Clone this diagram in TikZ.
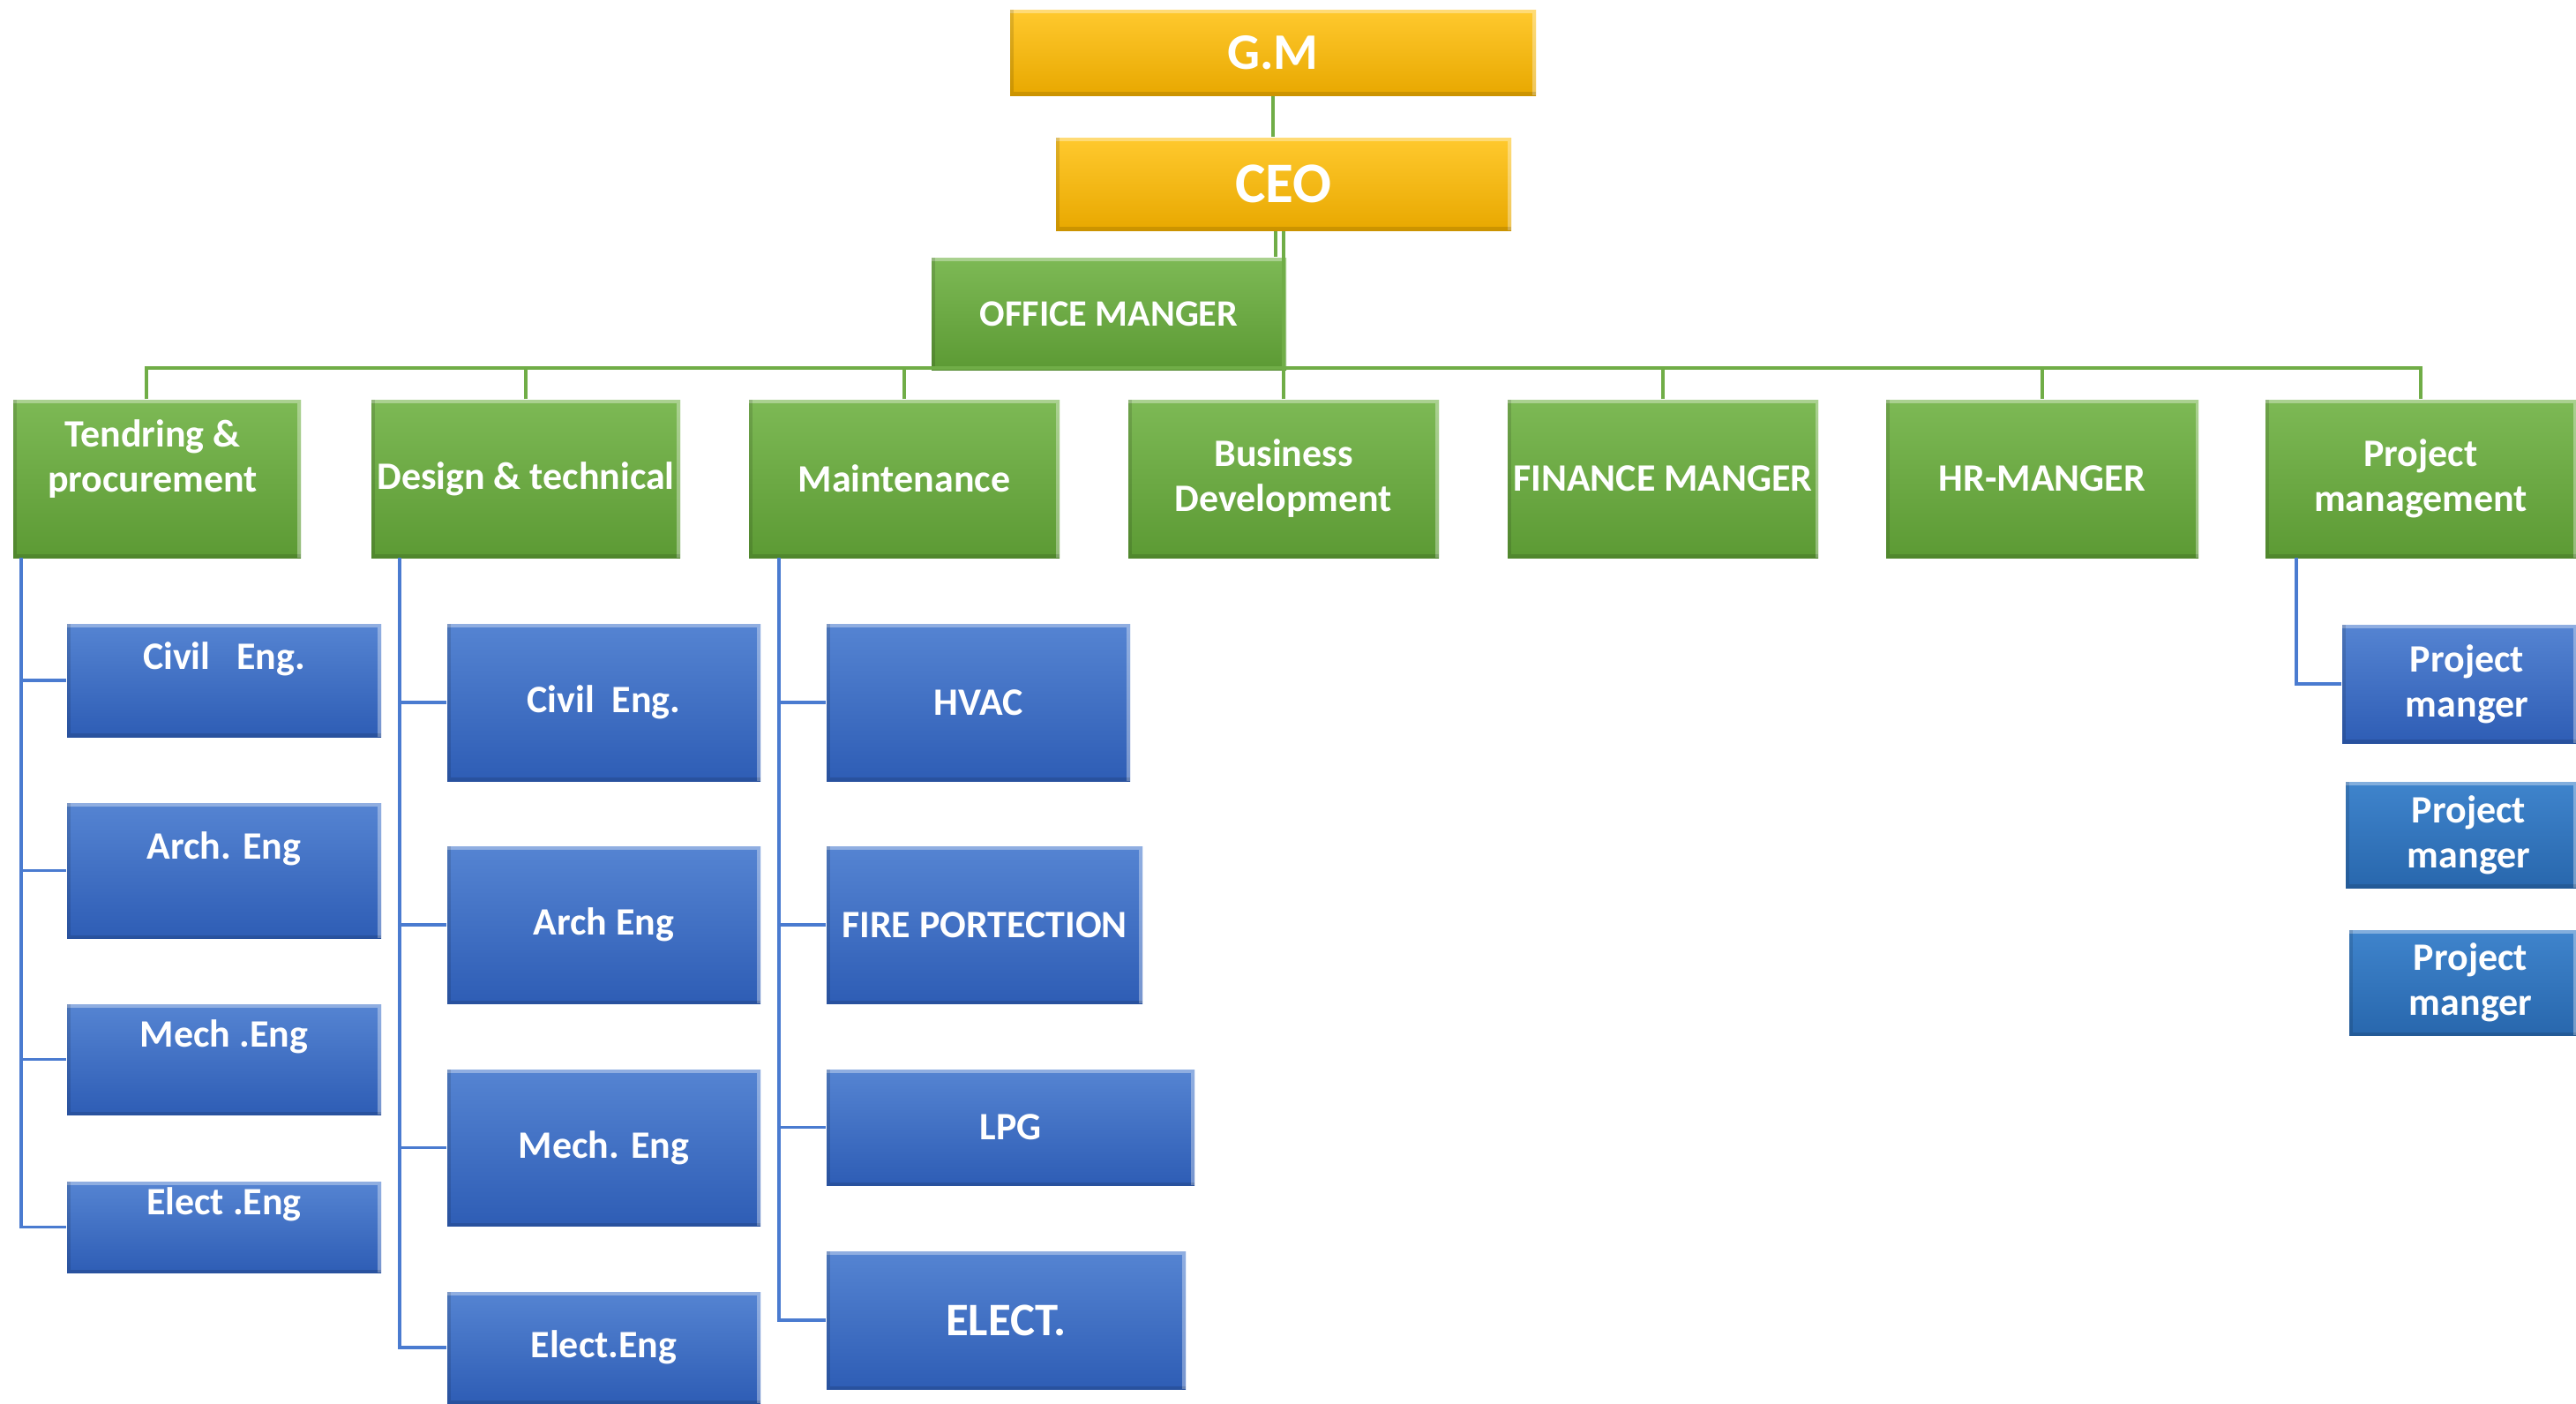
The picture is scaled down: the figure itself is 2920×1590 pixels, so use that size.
\documentclass[tikz,border=0pt]{standalone}
\usepackage{fontspec}
\setmainfont{Carlito}
\definecolor{goldT}{HTML}{FFC92E}
\definecolor{goldB}{HTML}{E8A800}
\definecolor{grnT}{HTML}{7DB955}
\definecolor{grnB}{HTML}{5C9A34}
\definecolor{bluT}{HTML}{5584D2}
\definecolor{bluB}{HTML}{2E5DB5}
\definecolor{stlT}{HTML}{3F84CC}
\definecolor{stlB}{HTML}{2867AD}
\definecolor{gline}{HTML}{70AD47}
\definecolor{bline}{HTML}{4A7BD0}
\tikzset{
  base/.style={rectangle, inner sep=0pt, text=white, align=center,
    font=\bfseries\fontsize{12.5}{14.5}\selectfont,
    path picture={
      \draw[white, opacity=.35, line width=2pt]
        (path picture bounding box.north west) -- (path picture bounding box.north east)
        -- (path picture bounding box.south east);
      \draw[black, opacity=.12, line width=2pt]
        (path picture bounding box.north west) -- (path picture bounding box.south west)
        -- (path picture bounding box.south east);
    }},
  goldbox/.style={base, top color=goldT, bottom color=goldB},
  grnbox/.style={base, top color=grnT, bottom color=grnB},
  blubox/.style={base, top color=bluT, bottom color=bluB},
  stlbox/.style={base, top color=stlT, bottom color=stlB},
  lbl/.style={anchor=center, text=white, align=center, inner sep=0pt,
    font=\bfseries\fontsize{12.5}{14.5}\selectfont},
  gconn/.style={draw=gline, line width=1pt},
  bconn/.style={draw=bline, line width=1pt},
}
\newcommand\orgbox[7]{\node[#6, minimum width={(#4-#2)*0.01cm}, minimum height={(#5-#3)*0.01cm}] (#1) at ({(#2+#4)/2},{(#3+#5)/2}) {#7};}
\begin{document}
\begin{tikzpicture}[x=0.01cm, y=-0.01cm]
\useasboundingbox[fill=white] (0,0) rectangle (2920,1590);

% top level
\orgbox{gm}{1145}{11}{1741}{108}{goldbox, font=\bfseries\fontsize{16.5}{18}\selectfont}{G.M}
\orgbox{ceo}{1197}{156}{1713}{261}{goldbox, font=\bfseries\fontsize{18.5}{20}\selectfont}{CEO}
\orgbox{om}{1056}{292}{1458}{419}{grnbox, font=\bfseries\fontsize{12}{14}\selectfont}{OFFICE MANGER}

% departments
\orgbox{tp}{15}{453}{341}{632}{grnbox, label={[lbl, xshift=-0.05cm, yshift=0.22cm]center:Tendring \&\\procurement}}{}
\orgbox{dt}{421}{453}{771}{632}{grnbox}{Design \& technical}
\orgbox{mt}{849}{453}{1201}{632}{grnbox}{Maintenance}
\orgbox{bd}{1279}{453}{1631}{632}{grnbox}{Business\\Development}
\orgbox{fm}{1709}{453}{2061}{632}{grnbox}{FINANCE MANGER}
\orgbox{hr}{2138}{453}{2492}{632}{grnbox}{HR-MANGER}
\orgbox{pm}{2568}{453}{2920}{632}{grnbox}{Project\\management}

% tendring column
\orgbox{tc1}{76}{707}{432}{835}{blubox, label={[lbl, yshift=-0.40cm]north:Civil\ \ \ Eng.}}{}
\orgbox{tc2}{76}{910}{432}{1063}{blubox, label={[lbl, yshift=-0.52cm]north:Arch. Eng}}{}
\orgbox{tc3}{76}{1138}{432}{1263}{blubox, label={[lbl, yshift=-0.37cm]north:Mech .Eng}}{}
\orgbox{tc4}{76}{1339}{432}{1442}{blubox, label={[lbl, yshift=-0.26cm]north:Elect .Eng}}{}

% design column
\orgbox{dc1}{507}{707}{862}{885}{blubox}{Civil\ \ Eng.}
\orgbox{dc2}{507}{959}{862}{1137}{blubox}{Arch Eng}
\orgbox{dc3}{507}{1212}{862}{1389}{blubox}{Mech. Eng}
\orgbox{dc4}{507}{1464}{862}{1590}{blubox}{Elect.Eng}

% maintenance column
\orgbox{mc1}{937}{707}{1281}{885}{blubox}{HVAC}
\orgbox{mc2}{937}{959}{1295}{1137}{blubox}{FIRE PORTECTION}
\orgbox{mc3}{937}{1212}{1354}{1343}{blubox}{LPG}
\orgbox{mc4}{937}{1418}{1344}{1574}{blubox, font=\bfseries\fontsize{15}{17}\selectfont}{ELECT.}

% project column
\orgbox{pc1}{2655}{708}{2920}{842}{blubox, label={[lbl, xshift=0.09cm]center:Project\\manger}}{}
\orgbox{pc2}{2659}{886}{2920}{1006}{stlbox, label={[lbl, xshift=0.09cm]center:Project\\manger}}{}
\orgbox{pc3}{2663}{1054}{2920}{1173}{stlbox, label={[lbl, xshift=0.09cm]center:Project\\manger}}{}

% green connectors
\coordinate (bar) at (1457,417);
\draw[gconn] (gm.south) -- (gm.south |- ceo.north);
\draw[gconn] ([xshift=-0.09cm]ceo.south) -- ([xshift=-0.09cm]ceo.south |- om.north);
\draw[gconn] (ceo.south) -- (ceo.south |- bar);
\draw[gconn] ([xshift=-0.12cm]tp.north) -- ([xshift=-0.12cm]tp.north |- bar) -- (pm.north |- bar) -- (pm.north);
\foreach \n in {dt,mt,bd,fm,hr}{\draw[gconn] (\n.north) -- (\n.north |- bar);}

% blue connectors
\coordinate (tpv) at (24,632);
\coordinate (dtv) at (453,632);
\coordinate (mtv) at (883,632);
\coordinate (pmv) at (2603,632);
\draw[bconn] (tpv) |- (tc4.west);
\foreach \n in {tc1,tc2,tc3}{\draw[bconn] (tpv |- \n.west) -- (\n.west);}
\draw[bconn] (dtv) |- (dc4.west);
\foreach \n in {dc1,dc2,dc3}{\draw[bconn] (dtv |- \n.west) -- (\n.west);}
\draw[bconn] (mtv) |- (mc4.west);
\foreach \n in {mc1,mc2,mc3}{\draw[bconn] (mtv |- \n.west) -- (\n.west);}
\draw[bconn] (pmv) |- (pc1.west);
\end{tikzpicture}
\end{document}
